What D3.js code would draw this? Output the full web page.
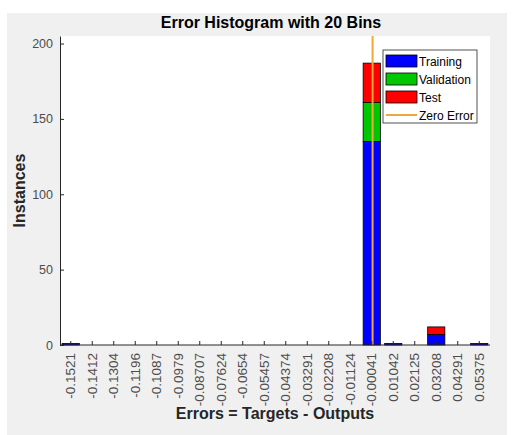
<!DOCTYPE html>
<html>
<head>
<meta charset="utf-8">
<script src="https://cdn.jsdelivr.net/npm/d3@7"></script>
<style>
  html, body { margin: 0; padding: 0; background: #ffffff; }
  svg { display: block; }
</style>
</head>
<body>
<svg id="chart" width="530" height="435"></svg>
<script>
// ---------------- data ----------------
const binLabels = ["-0.1521","-0.1412","-0.1304","-0.1196","-0.1087","-0.0979","-0.08707","-0.07624","-0.0654","-0.05457","-0.04374","-0.03291","-0.02208","-0.01124","-0.00041","0.01042","0.02125","0.03208","0.04291","0.05375"];
const training   = [1,0,0,0,0,0,0,0,0,0,0,0,0,0,135,1,0,7,0,1];
const validation = [0,0,0,0,0,0,0,0,0,0,0,0,0,0,26,0,0,0,0,0];
const test       = [0,0,0,0,0,0,0,0,0,0,0,0,0,0,26,0,0,5,0,0];
const seriesNames = ["Training","Validation","Test"];
const yTicks = [0,50,100,150,200];
const zeroError = 0;
const titleText = "Error Histogram with 20 Bins";
const xLabelText = "Errors = Targets - Outputs";
const yLabelText = "Instances";

// ---------------- layout ----------------
const svg = d3.select("#chart");
const colors = { Training: "#0000ff", Validation: "#00c800", Test: "#ff0000" };
const zeroColor = "#f0a83a";
const plot = { left: 60, right: 490, top: 36, bottom: 345 };
const font = "Arial, 'Liberation Sans', sans-serif";

// figure background
svg.append("rect").attr("x", 7).attr("y", 13).attr("width", 500).attr("height", 422).attr("fill", "#f0f0f0");
// axes background
svg.append("rect").attr("x", plot.left).attr("y", plot.top)
  .attr("width", plot.right - plot.left).attr("height", plot.bottom - plot.top).attr("fill", "#ffffff");

const x = d3.scaleBand().domain(binLabels).range([plot.left, plot.right]).paddingInner(0.2).paddingOuter(0.1);
const xCenter = d => x(d) + x.bandwidth() / 2;
const xNum = d3.scaleLinear()
  .domain([+binLabels[0], +binLabels[binLabels.length - 1]])
  .range([xCenter(binLabels[0]), xCenter(binLabels[binLabels.length - 1])]);
const y = d3.scaleLinear().domain([0, 205]).range([plot.bottom, plot.top]);

const table = binLabels.map((b, i) => ({ bin: b, Training: training[i], Validation: validation[i], Test: test[i] }));
const stacked = d3.stack().keys(seriesNames)(table);

const gBars = svg.append("g");
stacked.forEach(layer => {
  gBars.selectAll(null).data(layer.filter(d => d[1] - d[0] > 0)).enter().append("rect")
    .attr("x", d => x(d.data.bin))
    .attr("width", x.bandwidth())
    .attr("y", d => y(d[1]))
    .attr("height", d => y(d[0]) - y(d[1]))
    .attr("fill", colors[layer.key])
    .attr("stroke", "#000")
    .attr("stroke-width", 0.8);
});

// zero error line
svg.append("line")
  .attr("x1", xNum(zeroError)).attr("x2", xNum(zeroError))
  .attr("y1", plot.bottom).attr("y2", plot.top)
  .attr("stroke", zeroColor).attr("stroke-width", 2);

// axes
const axisColor = "#262626";
const yAxis = svg.append("g").attr("transform", `translate(${plot.left},0)`)
  .call(d3.axisLeft(y).tickValues(yTicks).tickSizeInner(-4).tickSizeOuter(0).tickPadding(7));
yAxis.select(".domain").attr("stroke", axisColor);
yAxis.selectAll(".tick line").attr("stroke", axisColor);
yAxis.selectAll("text").attr("font-family", font)
  .attr("font-size", 12.5).attr("fill", "#4d4d4d");

const xAxis = svg.append("g").attr("transform", `translate(0,${plot.bottom})`)
  .call(d3.axisBottom(x).tickSizeInner(-4).tickSizeOuter(0).tickFormat(""));
xAxis.select(".domain").attr("stroke", axisColor).attr("d", `M${plot.left},0H${plot.right}`);
xAxis.selectAll(".tick line").attr("stroke", axisColor);

svg.append("g").selectAll("text").data(binLabels).enter().append("text")
  .attr("transform", d => `translate(${xCenter(d) + 4.5},${plot.bottom + 8}) rotate(-90)`)
  .attr("text-anchor", "end")
  .attr("font-family", font)
  .attr("font-size", 13.5).attr("fill", "#4d4d4d")
  .text(d => d);

// title & labels
svg.append("text").attr("x", (plot.left + plot.right) / 2 - 4).attr("y", 28)
  .attr("text-anchor", "middle").attr("font-family", font)
  .attr("font-weight", "bold").attr("font-size", 16).attr("fill", "#000").text(titleText);
svg.append("text").attr("x", (plot.left + plot.right) / 2).attr("y", 419)
  .attr("text-anchor", "middle").attr("font-family", font)
  .attr("font-weight", "bold").attr("font-size", 16).attr("fill", "#262626").text(xLabelText);
svg.append("text").attr("transform", `translate(25,${(plot.top + plot.bottom) / 2}) rotate(-90)`)
  .attr("text-anchor", "middle").attr("font-family", font)
  .attr("font-weight", "bold").attr("font-size", 16).attr("fill", "#262626").text(yLabelText);

// legend
const lg = svg.append("g");
lg.append("rect").attr("x", 383).attr("y", 50).attr("width", 94).attr("height", 73)
  .attr("fill", "#fff").attr("stroke", "#262626").attr("stroke-width", 0.8);
const legendItems = seriesNames.concat(["Zero Error"]);
legendItems.forEach((name, i) => {
  const cy = 61 + i * 18;
  if (name === "Zero Error") {
    lg.append("line").attr("x1", 386).attr("x2", 417).attr("y1", cy).attr("y2", cy)
      .attr("stroke", zeroColor).attr("stroke-width", 2);
  } else {
    lg.append("rect").attr("x", 386).attr("y", cy - 6).attr("width", 31).attr("height", 12)
      .attr("fill", colors[name]).attr("stroke", "#000").attr("stroke-width", 0.8);
  }
  lg.append("text").attr("x", 419).attr("y", cy + 4.5)
    .attr("font-family", font).attr("font-size", 12)
    .attr("fill", "#000").text(name);
});
</script>
</body>
</html>
